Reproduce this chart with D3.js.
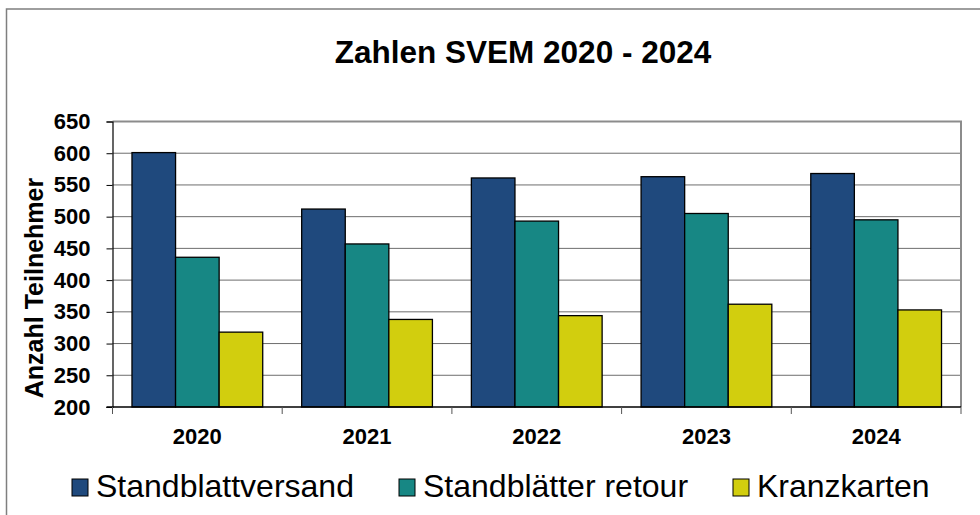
<!DOCTYPE html>
<html>
<head>
<meta charset="utf-8">
<script src="https://cdn.jsdelivr.net/npm/d3@7"></script>
<style>
  body { margin: 0; background: #fff; }
  svg { display: block; font-family: Arial, "Liberation Sans", sans-serif; }
</style>
</head>
<body>
<div id="chart"></div>
<script>
// Chart data
const years = ["2020", "2021", "2022", "2023", "2024"];
const seriesNames = ["Standblattversand", "Standblätter retour", "Kranzkarten"];
const standblattversand = [601, 512, 561, 563, 568];
const standblaetterRetour = [436, 457, 493, 505, 495];
const kranzkarten = [318, 338, 344, 362, 353];
const yTicks = [200, 250, 300, 350, 400, 450, 500, 550, 600, 650];

const seriesValues = [standblattversand, standblaetterRetour, kranzkarten];
const colors = ["#1f497d", "#178784", "#d2ce0e"];

const width = 980, height = 515;
const plot = { left: 112.5, right: 961, top: 121.5, bottom: 407 };

const svg = d3.select("#chart")
  .append("svg")
  .attr("width", width)
  .attr("height", height);

// Outer chart border (runs off the right and bottom edge)
svg.append("rect")
  .attr("x", 6.5)
  .attr("y", 9)
  .attr("width", 1000)
  .attr("height", 600)
  .attr("fill", "none")
  .attr("stroke", "#7f7f7f")
  .attr("stroke-width", 1.5);

// Title
svg.append("text")
  .attr("x", 523)
  .attr("y", 63)
  .attr("text-anchor", "middle")
  .attr("font-weight", "bold")
  .attr("font-size", 31.5)
  .text("Zahlen SVEM 2020 - 2024");

// Scales
const x0 = d3.scaleBand()
  .domain(years)
  .range([plot.left, plot.right])
  .padding(0);

const x1 = d3.scaleBand()
  .domain(seriesNames)
  .range([0, x0.bandwidth()])
  .paddingInner(0)
  .paddingOuter(0.447);

const y = d3.scaleLinear()
  .domain([200, 650])
  .range([plot.bottom, plot.top]);

// Gridlines
svg.append("g")
  .selectAll("line")
  .data(yTicks.filter(d => d > 200 && d < 650))
  .enter()
  .append("line")
  .attr("x1", plot.left)
  .attr("x2", plot.right)
  .attr("y1", d => y(d))
  .attr("y2", d => y(d))
  .attr("stroke", "#6e6e6e")
  .attr("stroke-width", 1);

// Plot area border: top and right in grey
svg.append("path")
  .attr("d", `M${plot.left},${plot.top}H${plot.right}V${plot.bottom}`)
  .attr("fill", "none")
  .attr("stroke", "#8c8c8c")
  .attr("stroke-width", 2);

// Bars
const groups = svg.append("g")
  .selectAll("g")
  .data(years)
  .enter()
  .append("g")
  .attr("transform", d => `translate(${x0(d)},0)`);

groups.selectAll("rect")
  .data((yr, i) => seriesNames.map((name, s) => ({ name, s, value: seriesValues[s][i] })))
  .enter()
  .append("rect")
  .attr("x", d => x1(d.name))
  .attr("y", d => y(d.value))
  .attr("width", x1.bandwidth())
  .attr("height", d => y(200) - y(d.value))
  .attr("fill", d => colors[d.s])
  .attr("stroke", "#000")
  .attr("stroke-width", 1.3);

// Y axis
const yAxis = svg.append("g")
  .attr("transform", `translate(${plot.left},0)`)
  .call(d3.axisLeft(y).tickValues(yTicks).tickSize(6).tickPadding(16));

yAxis.select(".domain").attr("stroke", "#000").attr("stroke-width", 1.2);
yAxis.selectAll(".tick line").attr("stroke", "#000");
yAxis.selectAll(".tick text")
  .attr("font-family", "Arial, 'Liberation Sans', sans-serif")
  .attr("font-size", 22)
  .attr("font-weight", "bold")
  .attr("fill", "#000");

// X axis with ticks at the category boundaries
const xAxis = svg.append("g")
  .attr("transform", `translate(0,${plot.bottom})`);

xAxis.append("line")
  .attr("x1", plot.left - 6)
  .attr("x2", plot.right)
  .attr("stroke", "#000")
  .attr("stroke-width", 1.5);

xAxis.selectAll("line.tick")
  .data(years.concat(["end"]))
  .enter()
  .append("line")
  .attr("class", "tick")
  .attr("x1", (d, i) => i < years.length ? x0(d) : plot.right)
  .attr("x2", (d, i) => i < years.length ? x0(d) : plot.right)
  .attr("y1", 0)
  .attr("y2", 7)
  .attr("stroke", "#555");

xAxis.selectAll("text")
  .data(years)
  .enter()
  .append("text")
  .attr("x", d => x0(d) + x0.bandwidth() / 2)
  .attr("y", 37)
  .attr("text-anchor", "middle")
  .attr("font-weight", "bold")
  .attr("font-size", 22)
  .text(d => d);

// Y axis label
svg.append("text")
  .attr("transform", "translate(43,288) rotate(-90)")
  .attr("text-anchor", "middle")
  .attr("font-weight", "bold")
  .attr("font-size", 25)
  .text("Anzahl Teilnehmer");

// Legend
const legendX = [72, 399, 733];
const legend = svg.append("g")
  .selectAll("g")
  .data(seriesNames)
  .enter()
  .append("g")
  .attr("transform", (d, i) => `translate(${legendX[i]},479)`);

legend.append("rect")
  .attr("width", 16)
  .attr("height", 17)
  .attr("fill", (d, i) => colors[i])
  .attr("stroke", "#000")
  .attr("stroke-width", 1);

legend.append("text")
  .attr("x", 24)
  .attr("y", 18)
  .attr("font-size", 32)
  .text(d => d);
</script>
</body>
</html>
